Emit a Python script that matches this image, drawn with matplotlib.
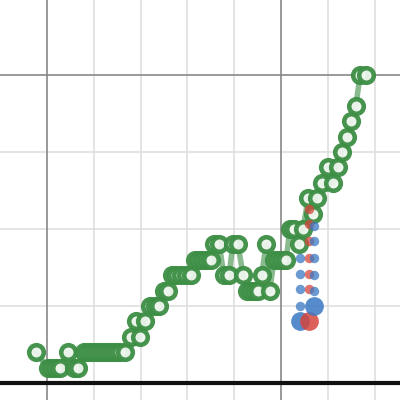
import matplotlib
matplotlib.use('Agg')
import matplotlib.pyplot as plt

# green series (x index, value)
green_x = [-2.4, 0.2, 1.1, 1.9, 2.8, 4.5, 5.8, 6.6, 7.9, 8.8, 9.6, 10.5, 11.3,
           12.2, 13.0, 13.9, 14.7, 15.6, 16.7, 17.9, 19.0, 19.9, 20.9, 22.0,
           23.1, 23.9, 25.0, 25.9, 26.7, 27.6, 28.6, 29.7, 30.8, 31.6, 32.5,
           33.3, 34.2, 35.0, 35.7, 36.8, 37.8, 38.9, 39.7, 40.8, 41.9, 42.7,
           43.6, 44.4, 45.1, 45.9, 46.8, 47.6, 48.5, 49.4, 50.2, 51.1, 51.9,
           52.8, 53.8, 54.7, 55.8, 56.8, 57.7, 58.8, 60.0, 61.1, 62.2, 63.0,
           64.1, 65.0, 66.0, 66.9, 68.2]
green_y = [2, 1, 1, 1, 1, 2, 1, 1, 2, 2, 2, 2, 2,
           2, 2, 2, 2, 2, 2, 3, 4, 3, 4, 5,
           5, 5, 6, 6, 7, 7, 7, 7, 7, 8, 8,
           8, 8, 8, 9, 9, 7, 7, 9, 9, 7, 6,
           6, 6, 6, 7, 9, 6, 8, 8, 8, 8, 10,
           10, 9, 10, 12, 11, 12, 13, 14, 13, 14, 15,
           16, 17, 18, 20, 20]

# red / blue dot columns
blue_left_x = 54.1
blue_left_y = [8.1, 7.1, 6.1, 5.0]
blue_left_big = 4.0
red_x = 56.0
red_y = [11.3, 10.3, 9.2, 8.1, 7.1, 6.1]
red_big = 4.0
blue_right_x = 57.1
blue_right_y = [10.2, 9.2, 8.1, 7.0, 6.0]
blue_right_big = 5.0

x_minor = [10, 20, 30, 40, 60, 70]
x_major = [0, 50]
y_minor = [5, 10, 15]
y_major = [20]

green = '#3d8e45'
blue = '#3a78c4'
red = '#d5453c'

fig = plt.figure(figsize=(4, 4), dpi=100)
ax = fig.add_axes([0, 0, 1, 1])
ax.set_xlim(-10.04, 75.43)
ax.set_ylim(-1.10, 24.87)
for s in ax.spines.values():
    s.set_visible(False)
ax.set_xticks([])
ax.set_yticks([])

for v in x_minor:
    ax.axvline(v, color='#dddddd', lw=1.1, zorder=0)
for v in y_minor:
    ax.axhline(v, color='#dddddd', lw=1.1, zorder=0)
for v in x_major:
    ax.axvline(v, color='#888888', lw=1.2, zorder=0)
for v in y_major:
    ax.axhline(v, color='#888888', lw=1.2, zorder=0)
ax.axhline(0, color='#111111', lw=3, zorder=0)

ax.plot(green_x, green_y, color=green, lw=4, alpha=0.6, zorder=2)
ax.plot(green_x, green_y, ls='none', marker='o', ms=10.5, mew=3.3,
        mec=green, mfc='#eef6ee', alpha=0.95, zorder=3)

ax.plot([blue_left_x] * len(blue_left_y), blue_left_y, 'o', ms=6.8,
        color=blue, alpha=0.75, mew=0, zorder=4)
ax.plot([blue_left_x], [blue_left_big], 'o', ms=13.5, color=blue,
        alpha=0.85, mew=0, zorder=4)
ax.plot([red_x] * len(red_y), red_y, 'o', ms=6.8, color=red,
        alpha=0.75, mew=0, zorder=4)
ax.plot([red_x], [red_big], 'o', ms=13.5, color=red, alpha=0.85,
        mew=0, zorder=4)
ax.plot([blue_right_x] * len(blue_right_y), blue_right_y, 'o', ms=6.8,
        color=blue, alpha=0.75, mew=0, zorder=5)
ax.plot([blue_right_x], [blue_right_big], 'o', ms=13.5, color=blue,
        alpha=0.85, mew=0, zorder=5)

plt.savefig('out.png', dpi=100)
